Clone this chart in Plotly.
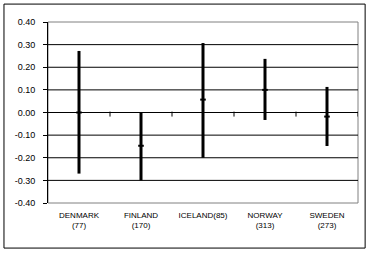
import plotly.graph_objects as go

categories = ["DENMARK<br>(77)", "FINLAND<br>(170)", "ICELAND(85)", "NORWAY<br>(313)", "SWEDEN<br>(273)"]
high = [0.272, 0.000, 0.307, 0.237, 0.113]
low = [-0.270, -0.300, -0.200, -0.033, -0.148]
mid = [0.000, -0.147, 0.057, 0.100, -0.018]
y_ticks = [-0.4, -0.3, -0.2, -0.1, 0.0, 0.1, 0.2, 0.3, 0.4]
y_tick_labels = ["-0.40", "-0.30", "-0.20", "-0.10", "0.00", "0.10", "0.20", "0.30", "0.40"]

xs = list(range(len(categories)))
font_family = "Liberation Sans, Arial, sans-serif"

fig = go.Figure()
fig.add_trace(go.Scatter(
    x=xs, y=mid, mode="markers",
    marker=dict(symbol="line-ew", size=4, color="black", line=dict(width=2, color="black")),
    error_y=dict(type="data", symmetric=False,
                 array=[h - m for h, m in zip(high, mid)],
                 arrayminus=[m - l for m, l in zip(mid, low)],
                 thickness=3, width=0, color="black"),
    showlegend=False, hoverinfo="skip",
))

shapes = []
# outer chart border
shapes.append(dict(type="rect", xref="paper", yref="paper", x0=-0.142, x1=1.023, y0=-0.249, y1=1.099,
                   line=dict(color="black", width=1), layer="below"))
# plot-area border (gray)
shapes.append(dict(type="rect", xref="paper", yref="paper", x0=0, x1=1, y0=0, y1=1,
                   line=dict(color="#808080", width=1), layer="below"))
# interior gridlines
for v in y_ticks[1:-1]:
    shapes.append(dict(type="line", xref="paper", yref="y", x0=0, x1=1, y0=v, y1=v,
                       line=dict(color="black", width=1), layer="below"))
# category-boundary tick marks on the zero line
for i in range(len(categories)):
    shapes.append(dict(type="line", xref="x", yref="y", x0=i + 0.5, x1=i + 0.5, y0=0.004, y1=-0.018,
                       line=dict(color="black", width=1), layer="below"))

fig.update_layout(
    width=371, height=253,
    margin=dict(l=48, r=13, t=22, b=50),
    paper_bgcolor="white", plot_bgcolor="white",
    font=dict(family=font_family, color="black"),
    shapes=shapes,
    xaxis=dict(range=[-0.5, len(categories) - 0.5], tickvals=xs, ticktext=categories,
               showgrid=False, zeroline=False, showline=False, ticks="",
               ticklabelstandoff=6, tickfont=dict(size=8, family=font_family)),
    yaxis=dict(range=[-0.4, 0.4], tickvals=y_ticks, ticktext=y_tick_labels,
               showgrid=False, zeroline=False, showline=True, linecolor="black", linewidth=1,
               ticks="outside", ticklen=4, tickcolor="black", ticklabelstandoff=6,
               tickfont=dict(size=9, family=font_family)),
)

fig.write_html("out.html")
